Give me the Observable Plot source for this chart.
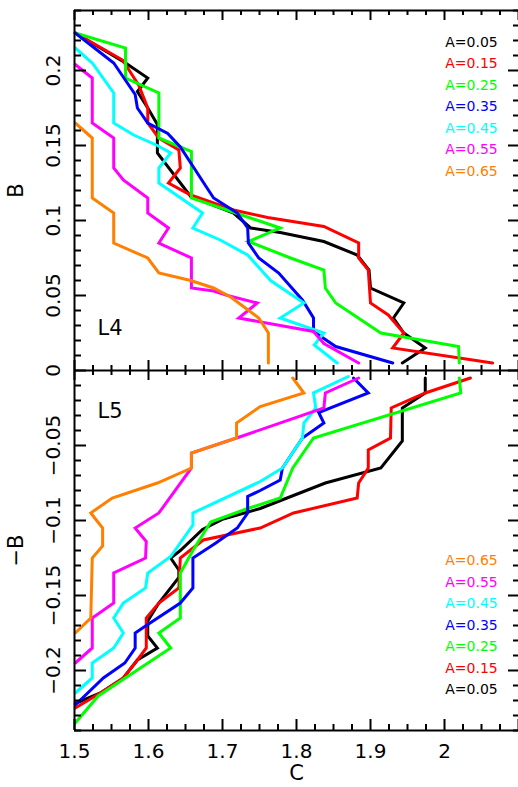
<!DOCTYPE html>
<html><head><meta charset="utf-8">
<script src="https://cdn.jsdelivr.net/npm/d3@7"></script>
<script src="https://cdn.jsdelivr.net/npm/@observablehq/plot@0.6"></script>
<style>
html,body{margin:0;padding:0;background:#fff;}
#chart{width:518px;height:787px;overflow:hidden;}
</style></head><body><div id="chart"></div>
<script>
// Series labels and colours
const seriesA = ["0.05","0.15","0.25","0.35","0.45","0.55","0.65"];
const seriesColors = ["#000000","#ff0000","#00ff00","#0000ff","#00ffff","#ff00ff","#ff8000"];

// Panel L4 (upper): [C, B]
const L4_A005 = [[1.501,0.225],[1.569,0.205],[1.599,0.195],[1.585,0.186],[1.599,0.175],[1.612,0.164],[1.612,0.145],[1.657,0.116],[1.715,0.105],[1.738,0.095],[1.778,0.092],[1.837,0.086],[1.882,0.077],[1.898,0.067],[1.900,0.055],[1.945,0.045],[1.931,0.035],[1.945,0.025],[1.974,0.015],[1.943,0.005]];
const L4_A015 = [[1.501,0.225],[1.565,0.207],[1.587,0.190],[1.599,0.175],[1.599,0.165],[1.614,0.155],[1.641,0.147],[1.643,0.135],[1.627,0.125],[1.657,0.117],[1.715,0.107],[1.761,0.102],[1.837,0.096],[1.884,0.085],[1.884,0.075],[1.897,0.067],[1.900,0.045],[1.924,0.037],[1.945,0.025],[1.930,0.015],[2.065,0.005]];
const L4_A025 = [[1.501,0.225],[1.569,0.215],[1.569,0.195],[1.614,0.185],[1.614,0.155],[1.658,0.146],[1.658,0.115],[1.718,0.105],[1.778,0.095],[1.735,0.086],[1.792,0.075],[1.837,0.067],[1.839,0.055],[1.853,0.045],[1.914,0.025],[2.019,0.016],[2.020,0.005]];
const L4_A035 = [[1.501,0.225],[1.553,0.205],[1.582,0.184],[1.585,0.175],[1.599,0.165],[1.626,0.158],[1.643,0.149],[1.680,0.121],[1.688,0.115],[1.720,0.105],[1.734,0.095],[1.735,0.085],[1.749,0.075],[1.776,0.065],[1.808,0.047],[1.823,0.035],[1.823,0.026],[1.853,0.016],[1.930,0.005]];
const L4_A045 = [[1.501,0.215],[1.524,0.205],[1.553,0.185],[1.553,0.165],[1.580,0.157],[1.612,0.150],[1.630,0.145],[1.614,0.135],[1.614,0.125],[1.673,0.105],[1.660,0.095],[1.697,0.087],[1.734,0.077],[1.765,0.060],[1.810,0.045],[1.778,0.035],[1.837,0.025],[1.824,0.017],[1.855,0.005]];
const L4_A055 = [[1.501,0.204],[1.524,0.195],[1.524,0.165],[1.553,0.155],[1.553,0.135],[1.566,0.127],[1.599,0.115],[1.599,0.105],[1.627,0.095],[1.614,0.085],[1.658,0.075],[1.658,0.055],[1.688,0.053],[1.707,0.050],[1.747,0.045],[1.722,0.035],[1.823,0.026],[1.837,0.018],[1.884,0.005]];
const L4_A065 = [[1.501,0.165],[1.524,0.155],[1.524,0.115],[1.553,0.105],[1.553,0.085],[1.599,0.075],[1.614,0.065],[1.657,0.060],[1.688,0.055],[1.711,0.049],[1.749,0.035],[1.762,0.025],[1.762,0.005]];

// Panel L5 (lower): [C, -B]
const L5_A005 = [[1.501,-0.222],[1.535,-0.215],[1.566,-0.205],[1.585,-0.193],[1.612,-0.185],[1.599,-0.177],[1.599,-0.167],[1.614,-0.155],[1.641,-0.138],[1.641,-0.133],[1.630,-0.125],[1.643,-0.120],[1.673,-0.106],[1.701,-0.099],[1.751,-0.092],[1.839,-0.075],[1.914,-0.065],[1.943,-0.047],[1.943,-0.025],[1.974,-0.015],[1.974,-0.005]];
const L5_A015 = [[1.501,-0.225],[1.535,-0.215],[1.566,-0.205],[1.585,-0.193],[1.597,-0.185],[1.597,-0.165],[1.614,-0.155],[1.641,-0.145],[1.643,-0.125],[1.674,-0.113],[1.751,-0.105],[1.796,-0.095],[1.882,-0.085],[1.884,-0.075],[1.897,-0.065],[1.897,-0.053],[1.927,-0.045],[1.928,-0.025],[1.974,-0.015],[2.035,-0.005]];
const L5_A025 = [[1.501,-0.235],[1.532,-0.217],[1.630,-0.185],[1.614,-0.175],[1.643,-0.165],[1.643,-0.135],[1.660,-0.120],[1.684,-0.101],[1.734,-0.092],[1.778,-0.085],[1.795,-0.065],[1.823,-0.045],[2.022,-0.015],[2.020,-0.005]];
const L5_A035 = [[1.501,-0.223],[1.539,-0.205],[1.568,-0.195],[1.582,-0.185],[1.582,-0.175],[1.597,-0.170],[1.643,-0.155],[1.660,-0.145],[1.660,-0.125],[1.691,-0.115],[1.720,-0.105],[1.734,-0.095],[1.734,-0.084],[1.751,-0.080],[1.778,-0.073],[1.781,-0.065],[1.808,-0.045],[1.837,-0.035],[1.830,-0.028],[1.897,-0.015],[1.877,-0.005]];
const L5_A045 = [[1.501,-0.215],[1.524,-0.205],[1.524,-0.195],[1.553,-0.185],[1.566,-0.175],[1.553,-0.165],[1.566,-0.155],[1.596,-0.145],[1.599,-0.135],[1.630,-0.124],[1.660,-0.103],[1.660,-0.095],[1.751,-0.074],[1.781,-0.065],[1.808,-0.045],[1.810,-0.035],[1.826,-0.025],[1.823,-0.015],[1.870,-0.004]];
const L5_A055 = [[1.501,-0.195],[1.524,-0.185],[1.524,-0.165],[1.553,-0.155],[1.553,-0.135],[1.596,-0.125],[1.597,-0.114],[1.582,-0.105],[1.614,-0.095],[1.658,-0.065],[1.658,-0.055],[1.719,-0.045],[1.837,-0.025],[1.839,-0.015],[1.884,-0.005]];
const L5_A065 = [[1.501,-0.175],[1.522,-0.165],[1.524,-0.125],[1.538,-0.117],[1.538,-0.105],[1.522,-0.095],[1.551,-0.085],[1.612,-0.075],[1.658,-0.065],[1.658,-0.055],[1.719,-0.045],[1.719,-0.035],[1.751,-0.024],[1.810,-0.015],[1.795,-0.005]];

// Axis ticks and labels
const xMajor = [1.5,1.6,1.7,1.8,1.9,2.0];
const xTickLabels = ["1.5","1.6","1.7","1.8","1.9","2"];
const yMajor = [0.2,0.15,0.1,0.05,0,-0.05,-0.1,-0.15,-0.2];
const yTickLabels = ["0.2","0.15","0.1","0.05","0","\u22120.05","\u22120.1","\u22120.15","\u22120.2"];
const panelLabels = ["L4","L5"];
const axisTitles = ["B","\u2212B"];
const xTitle = "C";

const L4 = [L4_A005,L4_A015,L4_A025,L4_A035,L4_A045,L4_A055,L4_A065];
const L5 = [L5_A005,L5_A015,L5_A025,L5_A035,L5_A045,L5_A055,L5_A065];

const W = 518, H = 787, mL = 74, mR = 0, mT = 10, mB = 57;
const X0 = 1.5, X1 = 2.1, Y0 = -0.24, Y1 = 0.24;
const kx = (X1 - X0) / (W - mL - mR);
const ky = (Y1 - Y0) / (H - mT - mB);

const xTicks = d3.range(0, 25).map(i => +(X0 + i * 0.025).toFixed(3));
const yTicks = d3.range(-24, 25).map(i => +(i * 0.01).toFixed(2));
const isMajX = d => Math.abs(d * 10 - Math.round(d * 10)) < 1e-6;
const isMajY = d => Math.abs(d * 20 - Math.round(d * 20)) < 1e-6;

const font = "DejaVu Sans, sans-serif";
const marks = [];

// lines
[L4, L5].forEach(panel => panel.forEach((s, i) => {
  marks.push(Plot.line(s, {x: d => d[0], y: d => d[1], stroke: seriesColors[i], strokeWidth: 3, strokeLinejoin: "miter", strokeMiterlimit: 3}));
}));

// frame (left, top, bottom, middle)
marks.push(Plot.ruleX([X0], {y1: Y0, y2: Y1, stroke: "black", strokeWidth: 2}));
marks.push(Plot.ruleY([Y0, 0, Y1], {x1: X0, x2: X1, stroke: "black", strokeWidth: 2}));

// y ticks left (inward) and right (inward)
marks.push(Plot.ruleY(yTicks, {y: d => d, x1: X0, x2: d => X0 + (isMajY(d) ? 12 : 7) * kx, stroke: "black", strokeWidth: 2}));
marks.push(Plot.ruleY(yTicks, {y: d => d, x1: d => X1 - (isMajY(d) ? 10 : 5) * kx, x2: X1, stroke: "black", strokeWidth: 2}));
// x ticks bottom, top, middle
marks.push(Plot.ruleX(xTicks, {x: d => d, y1: Y0, y2: d => Y0 + (isMajX(d) ? 11 : 6) * ky, stroke: "black", strokeWidth: 2}));
marks.push(Plot.ruleX(xTicks, {x: d => d, y1: d => Y1 - (isMajX(d) ? 10 : 5) * ky, y2: Y1, stroke: "black", strokeWidth: 2}));
marks.push(Plot.ruleX(xTicks, {x: d => d, y1: d => -(isMajX(d) ? 10 : 5) * ky, y2: d => (isMajX(d) ? 10 : 5) * ky, stroke: "black", strokeWidth: 2}));

// tick labels
marks.push(Plot.text(xMajor, {x: d => d, y: Y0, text: (d, i) => xTickLabels[i], dy: 21, fontSize: 20, fill: "black"}));
marks.push(Plot.text(yMajor, {x: X0, y: d => d, text: (d, i) => yTickLabels[i], rotate: -90, dx: -21, fontSize: 20, fill: "black"}));

// axis titles
marks.push(Plot.text(axisTitles, {x: X0, y: (d, i) => i === 0 ? 0.12 : -0.12, text: d => d, rotate: -90, dx: -58, fontSize: 21, fill: "black"}));
marks.push(Plot.text([xTitle], {x: 1.8, y: Y0, text: d => d, dy: 43, fontSize: 21, fill: "black"}));

// panel labels
marks.push(Plot.text(panelLabels, {x: 1.531, y: (d, i) => i === 0 ? 0.028 : -0.027, text: d => d, textAnchor: "start", fontSize: 21, fill: "black"}));

// legends
marks.push(Plot.text(seriesA, {x: 2.072, y: (d, i) => 0.2187 - i * 0.0143, text: d => "A=" + d, fill: (d, i) => seriesColors[i], textAnchor: "end", fontSize: 14}));
marks.push(Plot.text(seriesA, {x: 2.072, y: (d, i) => -0.2127 + i * 0.0143, text: d => "A=" + d, fill: (d, i) => seriesColors[i], textAnchor: "end", fontSize: 14}));

const chart = Plot.plot({
  width: W, height: H,
  marginLeft: mL, marginRight: mR, marginTop: mT, marginBottom: mB,
  x: {domain: [X0, X1], axis: null},
  y: {domain: [Y0, Y1], axis: null},
  color: {type: "identity"},
  style: {fontFamily: font, background: "white", overflow: "visible"},
  marks
});
document.getElementById("chart").appendChild(chart);
</script>
</body></html>
